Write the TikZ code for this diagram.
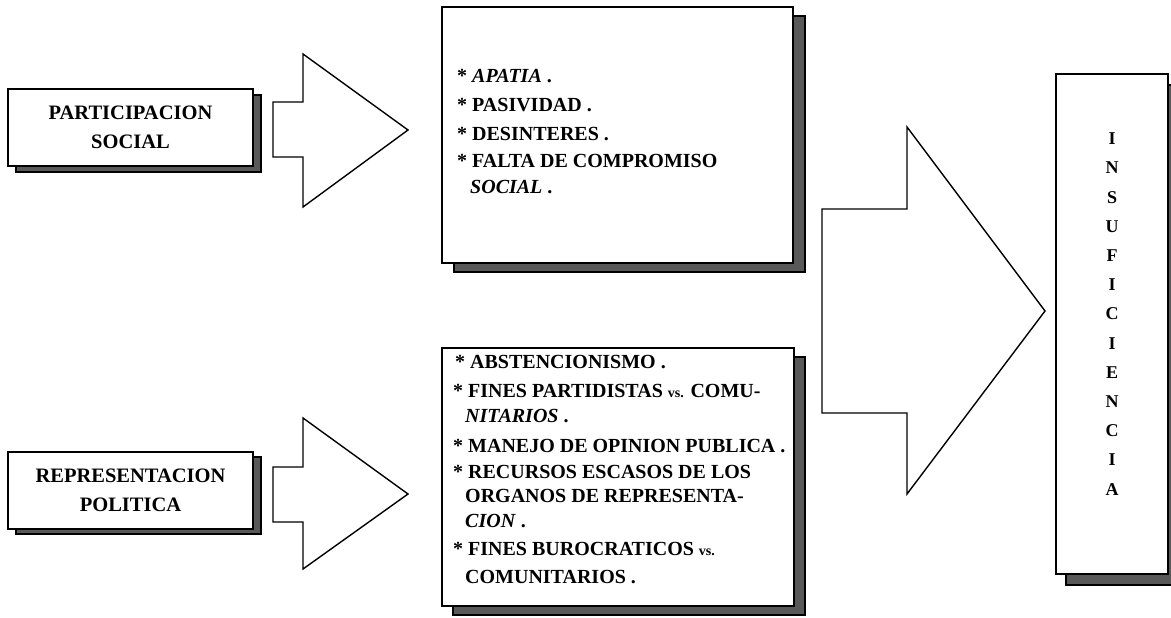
\documentclass[tikz,border=0pt]{standalone}
\usepackage{fontspec}
\setmainfont{Liberation Serif}
\usetikzlibrary{shadows}
\begin{document}
\begin{tikzpicture}[x=1pt,y=-1pt,
  boxbase/.style={draw=black, line width=1.8pt, fill=white, inner sep=0pt},
  shad/.style 2 args={drop shadow={shadow xshift=#1pt, shadow yshift=-#2pt, fill=black!65, draw=black, line width=1.5pt, opacity=1}},
  blockarrow/.style={draw=black, line width=1.4pt, fill=white, line join=miter},
  labtxt/.style={font=\fontsize{20.5}{29}\selectfont\bfseries, align=center},
  line/.style={font=\fontsize{20}{26}\selectfont\bfseries, inner sep=0pt, anchor=base west}
]
\useasboundingbox (0,0) rectangle (1171,618);

% left boxes
\node[boxbase, shad={8}{6}, minimum width=245pt, minimum height=77pt, labtxt] (ps) at (130.5,127.5) {PARTICIPACION\\SOCIAL};
\node[boxbase, shad={8}{5}, minimum width=245pt, minimum height=77pt, labtxt] (rp) at (130.5,490.5) {REPRESENTACION\\POLITICA};

% small block arrows
\draw[blockarrow] (273,102) coordinate (a1s) -- (303,102) -- (303,54) -- (408,130) coordinate (a1t) -- (303,207) -- (303,157) -- (273,157) -- cycle;
\draw[blockarrow] (273,467) coordinate (a2s) -- (303,467) -- (303,418) -- (408,494) coordinate (a2t) -- (303,569) -- (303,522) -- (273,522) -- cycle;

% middle boxes
\node[boxbase, shad={12}{9}, minimum width=351pt, minimum height=256pt] (sb) at (617.5,135) {};
\node[boxbase, shad={11}{9}, minimum width=352pt, minimum height=258pt] (rb) at (618,477) {};

\node[line] (s1) at (457,83) {* \textit{APATIA} .};
\node[line] (s2) at (457,112) {* PASIVIDAD .};
\node[line] (s3) at (457,140) {* DESINTERES .};
\node[line] (s4) at (457,167) {* FALTA DE COMPROMISO};
\node[line] (s5) at (470,193) {\textit{SOCIAL} .};

\node[line] (r1) at (455,368) {* ABSTENCIONISMO .};
\node[line] (r2) at (453,397) {* FINES PARTIDISTAS {\fontsize{14}{18}\selectfont vs.} COMU-};
\node[line] (r3) at (465,422) {\textit{NITARIOS} .};
\node[line] (r4) at (453,452) {* MANEJO DE OPINION PUBLICA .};
\node[line] (r5) at (453,478) {* RECURSOS ESCASOS DE LOS};
\node[line] (r6) at (465,502) {ORGANOS DE REPRESENTA-};
\node[line] (r7) at (465,527) {\textit{CION} .};
\node[line] (r8) at (453,555) {* FINES BUROCRATICOS {\fontsize{14}{18}\selectfont vs.}};
\node[line] (r9) at (465,583) {COMUNITARIOS .};

% big block arrow
\draw[blockarrow] (822,209) coordinate (a3s) -- (907,209) -- (907,127) -- (1045,311) coordinate (a3t) -- (907,494) -- (907,413) -- (822,413) -- cycle;

% right box
\node[boxbase, shad={10}{11}, minimum width=112pt, minimum height=500pt] (ins) at (1112,324) {};
\node[font=\fontsize{18}{29.2}\selectfont\bfseries, align=center, inner sep=0pt] (inst) at (1112,314) {I\\N\\S\\U\\F\\I\\C\\I\\E\\N\\C\\I\\A};
\end{tikzpicture}
\end{document}
